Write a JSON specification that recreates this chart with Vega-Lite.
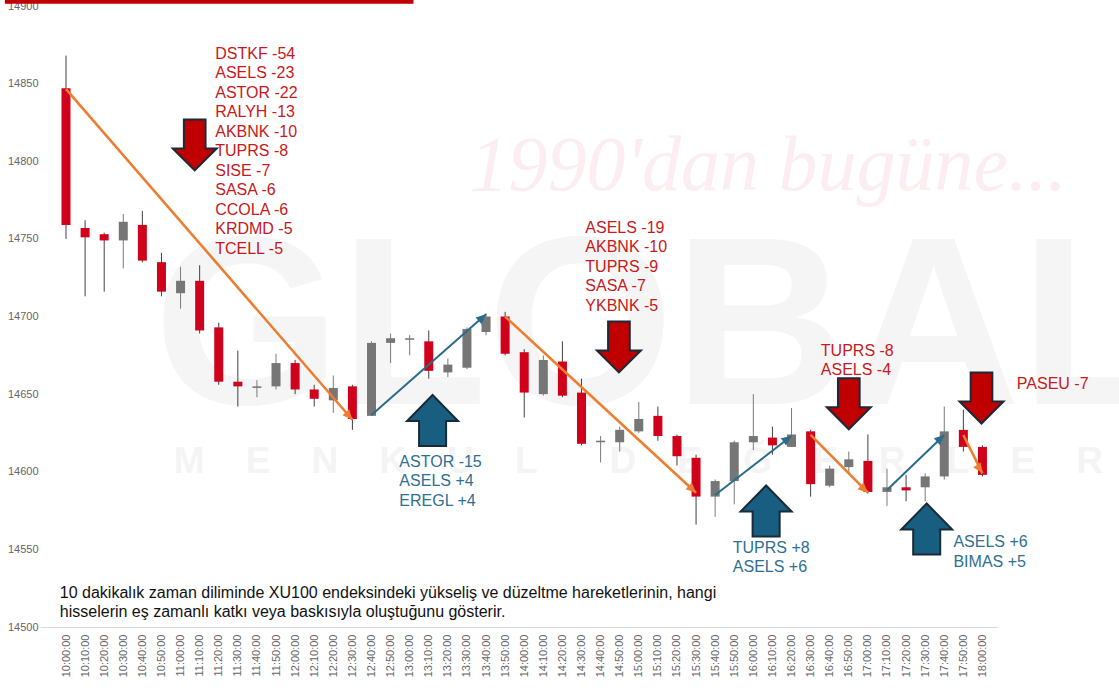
{
  "$schema": "https://vega.github.io/schema/vega-lite/v6.json",
  "width": 957,
  "height": 621,
  "autosize": "none",
  "padding": {"left": 40, "top": 6, "right": 122, "bottom": 61},
  "background": "white",
  "config": {"view": {"stroke": null}, "font": "Liberation Sans", "axisX": {"labelOverlap": false}},
  "datasets": {
    "candles": [
      {"t": "2024-01-02T10:00:00", "open": 14847, "high": 14868, "low": 14750, "close": 14759},
      {"t": "2024-01-02T10:10:00", "open": 14757, "high": 14762, "low": 14713, "close": 14751},
      {"t": "2024-01-02T10:20:00", "open": 14753, "high": 14754, "low": 14716, "close": 14749},
      {"t": "2024-01-02T10:30:00", "open": 14749, "high": 14766, "low": 14731, "close": 14761},
      {"t": "2024-01-02T10:40:00", "open": 14759, "high": 14768, "low": 14735, "close": 14736},
      {"t": "2024-01-02T10:50:00", "open": 14735, "high": 14741, "low": 14713, "close": 14716},
      {"t": "2024-01-02T11:00:00", "open": 14715, "high": 14732, "low": 14705, "close": 14723},
      {"t": "2024-01-02T11:10:00", "open": 14723, "high": 14733, "low": 14689, "close": 14691},
      {"t": "2024-01-02T11:20:00", "open": 14693, "high": 14696, "low": 14656, "close": 14658},
      {"t": "2024-01-02T11:30:00", "open": 14658, "high": 14678, "low": 14642, "close": 14655},
      {"t": "2024-01-02T11:40:00", "open": 14654, "high": 14659, "low": 14648, "close": 14655},
      {"t": "2024-01-02T11:50:00", "open": 14655, "high": 14676, "low": 14653, "close": 14670},
      {"t": "2024-01-02T12:00:00", "open": 14670, "high": 14672, "low": 14650, "close": 14653},
      {"t": "2024-01-02T12:10:00", "open": 14653, "high": 14656, "low": 14642, "close": 14647},
      {"t": "2024-01-02T12:20:00", "open": 14646, "high": 14662, "low": 14638, "close": 14654},
      {"t": "2024-01-02T12:30:00", "open": 14655, "high": 14656, "low": 14627, "close": 14634},
      {"t": "2024-01-02T12:40:00", "open": 14636, "high": 14684, "low": 14636, "close": 14683},
      {"t": "2024-01-02T12:50:00", "open": 14683, "high": 14689, "low": 14670, "close": 14686},
      {"t": "2024-01-02T13:00:00", "open": 14685, "high": 14688, "low": 14675, "close": 14686},
      {"t": "2024-01-02T13:10:00", "open": 14684, "high": 14691, "low": 14660, "close": 14665},
      {"t": "2024-01-02T13:20:00", "open": 14664, "high": 14673, "low": 14661, "close": 14669},
      {"t": "2024-01-02T13:30:00", "open": 14667, "high": 14693, "low": 14666, "close": 14692},
      {"t": "2024-01-02T13:40:00", "open": 14690, "high": 14702, "low": 14688, "close": 14700},
      {"t": "2024-01-02T13:50:00", "open": 14700, "high": 14703, "low": 14675, "close": 14676},
      {"t": "2024-01-02T14:00:00", "open": 14677, "high": 14679, "low": 14635, "close": 14651},
      {"t": "2024-01-02T14:10:00", "open": 14650, "high": 14675, "low": 14649, "close": 14672},
      {"t": "2024-01-02T14:20:00", "open": 14671, "high": 14684, "low": 14648, "close": 14649},
      {"t": "2024-01-02T14:30:00", "open": 14651, "high": 14660, "low": 14617, "close": 14618},
      {"t": "2024-01-02T14:40:00", "open": 14619, "high": 14623, "low": 14606, "close": 14620},
      {"t": "2024-01-02T14:50:00", "open": 14619, "high": 14629, "low": 14613, "close": 14627},
      {"t": "2024-01-02T15:00:00", "open": 14626, "high": 14645, "low": 14625, "close": 14634},
      {"t": "2024-01-02T15:10:00", "open": 14636, "high": 14642, "low": 14620, "close": 14623},
      {"t": "2024-01-02T15:20:00", "open": 14623, "high": 14624, "low": 14604, "close": 14610},
      {"t": "2024-01-02T15:30:00", "open": 14609, "high": 14611, "low": 14566, "close": 14584},
      {"t": "2024-01-02T15:40:00", "open": 14584, "high": 14595, "low": 14571, "close": 14594},
      {"t": "2024-01-02T15:50:00", "open": 14594, "high": 14620, "low": 14579, "close": 14619},
      {"t": "2024-01-02T16:00:00", "open": 14619, "high": 14650, "low": 14614, "close": 14623},
      {"t": "2024-01-02T16:10:00", "open": 14622, "high": 14629, "low": 14611, "close": 14617},
      {"t": "2024-01-02T16:20:00", "open": 14616, "high": 14641, "low": 14616, "close": 14624},
      {"t": "2024-01-02T16:30:00", "open": 14626, "high": 14627, "low": 14584, "close": 14592},
      {"t": "2024-01-02T16:40:00", "open": 14591, "high": 14604, "low": 14590, "close": 14602},
      {"t": "2024-01-02T16:50:00", "open": 14603, "high": 14613, "low": 14599, "close": 14608},
      {"t": "2024-01-02T17:00:00", "open": 14607, "high": 14624, "low": 14586, "close": 14587},
      {"t": "2024-01-02T17:10:00", "open": 14587, "high": 14602, "low": 14578, "close": 14590},
      {"t": "2024-01-02T17:20:00", "open": 14590, "high": 14598, "low": 14581, "close": 14588},
      {"t": "2024-01-02T17:30:00", "open": 14590, "high": 14599, "low": 14581, "close": 14597},
      {"t": "2024-01-02T17:40:00", "open": 14597, "high": 14642, "low": 14595, "close": 14626},
      {"t": "2024-01-02T17:50:00", "open": 14627, "high": 14640, "low": 14613, "close": 14616},
      {"t": "2024-01-02T18:00:00", "open": 14616, "high": 14617, "low": 14597, "close": 14598}
    ],
    "arrows": [
      {"id": "A1", "dir": "down", "t1": "2024-01-02T10:00:00", "v1": 14846.5, "t2": "2024-01-02T12:30:00", "v2": 14633.5},
      {"id": "A2", "dir": "up", "t1": "2024-01-02T12:40:00", "v1": 14636.5, "t2": "2024-01-02T13:40:00", "v2": 14701.5},
      {"id": "A3", "dir": "down", "t1": "2024-01-02T13:50:00", "v1": 14700, "t2": "2024-01-02T15:30:00", "v2": 14586.5},
      {"id": "A4", "dir": "up", "t1": "2024-01-02T15:40:00", "v1": 14585, "t2": "2024-01-02T16:20:00", "v2": 14623},
      {"id": "A5", "dir": "down", "t1": "2024-01-02T16:30:00", "v1": 14623.7, "t2": "2024-01-02T17:00:00", "v2": 14586.5},
      {"id": "A6", "dir": "up", "t1": "2024-01-02T17:10:00", "v1": 14588.2, "t2": "2024-01-02T17:40:00", "v2": 14623.7},
      {"id": "A7", "dir": "down", "t1": "2024-01-02T17:50:00", "v1": 14623.7, "t2": "2024-01-02T18:00:00", "v2": 14599}
    ],
    "blocks": [
      {"dir": "down", "t": "2024-01-02T11:07:25", "v": 14810.5},
      {"dir": "down", "t": "2024-01-02T14:49:36", "v": 14680.4},
      {"dir": "down", "t": "2024-01-02T16:50:00", "v": 14643.8},
      {"dir": "down", "t": "2024-01-02T17:59:30", "v": 14647.5},
      {"dir": "up", "t": "2024-01-02T13:12:00", "v": 14633.0},
      {"dir": "up", "t": "2024-01-02T16:06:42", "v": 14574.7},
      {"dir": "up", "t": "2024-01-02T17:30:48", "v": 14563.1}
    ],
    "notes": [
      {"kind": "red", "t": "2024-01-02T11:18:09", "v": 14865.9, "text": "DSTKF -54\nASELS -23\nASTOR -22\nRALYH -13\nAKBNK -10\nTUPRS -8\nSISE -7\nSASA -6\nCCOLA -6\nKRDMD -5\nTCELL -5"},
      {"kind": "red", "t": "2024-01-02T14:32:00", "v": 14753.8, "text": "ASELS -19\nAKBNK -10\nTUPRS -9\nSASA -7\nYKBNK -5"},
      {"kind": "blue", "t": "2024-01-02T12:54:36", "v": 14603.1, "text": "ASTOR -15\nASELS +4\nEREGL +4"},
      {"kind": "red", "t": "2024-01-02T16:35:21", "v": 14674.6, "text": "TUPRS -8\nASELS -4"},
      {"kind": "red", "t": "2024-01-02T18:18:00", "v": 14653.3, "text": "PASEU -7"},
      {"kind": "blue", "t": "2024-01-02T15:49:14", "v": 14547.7, "text": "TUPRS +8\nASELS +6"},
      {"kind": "blue", "t": "2024-01-02T17:44:48", "v": 14551.5, "text": "ASELS +6\nBIMAS +5"},
      {"kind": "black", "t": "2024-01-02T09:56:46", "v": 14518.7, "text": "10 dakikalık zaman diliminde XU100 endeksindeki yükseliş ve düzeltme hareketlerinin, hangi\nhisselerin eş zamanlı katkı veya baskısıyla oluştuğunu gösterir."}
    ],
    "topbar": [{"t1": "2024-01-02T09:28:00", "t2": "2024-01-02T13:02:00", "v1": 14901.4, "v2": 14904.5}],
    "wm1": [{"t": "2024-01-02T13:31:18", "v": 14781.5, "text": "1990'dan bugüne..."}],
    "wm2": [{"t": "2024-01-02T10:46:00", "v": 14643.6, "text": "GLOBAL"}],
    "wm3": [{"t": "2024-01-02T10:56:24", "v": 14599.2, "text": "M\u00a0\u00a0\u00a0\u00a0E\u00a0\u00a0\u00a0\u00a0N\u00a0\u00a0\u00a0\u00a0K\u00a0\u00a0\u00a0\u00a0U\u00a0\u00a0\u00a0\u00a0L\u00a0\u00a0\u00a0\u00a0\u00a0\u00a0\u00a0D\u00a0\u00a0\u00a0\u00a0E\u00a0\u00a0\u00a0\u00a0Ğ\u00a0\u00a0\u00a0\u00a0E\u00a0\u00a0\u00a0\u00a0R\u00a0\u00a0\u00a0\u00a0L\u00a0\u00a0\u00a0\u00a0E\u00a0\u00a0\u00a0\u00a0R"}]
  },
  "layer": [
    {
      "data": {"name": "topbar"},
      "mark": {"type": "rect", "color": "#c00000"},
      "encoding": {
        "x": {
          "field": "t1", "type": "temporal",
          "scale": {"domain": [{"year": 2024, "month": 1, "date": 2, "hours": 9, "minutes": 49}, {"year": 2024, "month": 1, "date": 2, "hours": 18, "minutes": 5}], "nice": false},
          "axis": {"title": null, "format": "%H:%M:%S", "labelAngle": -90, "labelFontSize": 11, "labelFont": "Liberation Sans", "labelColor": "#666666", "ticks": false, "labelPadding": 7, "domainColor": "#d9d9d9", "grid": false, "labelOverlap": false, "labelFlush": false, "tickCount": 200,
            "values": [
              {"year": 2024, "month": 1, "date": 2, "hours": 10, "minutes": 0}, {"year": 2024, "month": 1, "date": 2, "hours": 10, "minutes": 10}, {"year": 2024, "month": 1, "date": 2, "hours": 10, "minutes": 20}, {"year": 2024, "month": 1, "date": 2, "hours": 10, "minutes": 30}, {"year": 2024, "month": 1, "date": 2, "hours": 10, "minutes": 40}, {"year": 2024, "month": 1, "date": 2, "hours": 10, "minutes": 50},
              {"year": 2024, "month": 1, "date": 2, "hours": 11, "minutes": 0}, {"year": 2024, "month": 1, "date": 2, "hours": 11, "minutes": 10}, {"year": 2024, "month": 1, "date": 2, "hours": 11, "minutes": 20}, {"year": 2024, "month": 1, "date": 2, "hours": 11, "minutes": 30}, {"year": 2024, "month": 1, "date": 2, "hours": 11, "minutes": 40}, {"year": 2024, "month": 1, "date": 2, "hours": 11, "minutes": 50},
              {"year": 2024, "month": 1, "date": 2, "hours": 12, "minutes": 0}, {"year": 2024, "month": 1, "date": 2, "hours": 12, "minutes": 10}, {"year": 2024, "month": 1, "date": 2, "hours": 12, "minutes": 20}, {"year": 2024, "month": 1, "date": 2, "hours": 12, "minutes": 30}, {"year": 2024, "month": 1, "date": 2, "hours": 12, "minutes": 40}, {"year": 2024, "month": 1, "date": 2, "hours": 12, "minutes": 50},
              {"year": 2024, "month": 1, "date": 2, "hours": 13, "minutes": 0}, {"year": 2024, "month": 1, "date": 2, "hours": 13, "minutes": 10}, {"year": 2024, "month": 1, "date": 2, "hours": 13, "minutes": 20}, {"year": 2024, "month": 1, "date": 2, "hours": 13, "minutes": 30}, {"year": 2024, "month": 1, "date": 2, "hours": 13, "minutes": 40}, {"year": 2024, "month": 1, "date": 2, "hours": 13, "minutes": 50},
              {"year": 2024, "month": 1, "date": 2, "hours": 14, "minutes": 0}, {"year": 2024, "month": 1, "date": 2, "hours": 14, "minutes": 10}, {"year": 2024, "month": 1, "date": 2, "hours": 14, "minutes": 20}, {"year": 2024, "month": 1, "date": 2, "hours": 14, "minutes": 30}, {"year": 2024, "month": 1, "date": 2, "hours": 14, "minutes": 40}, {"year": 2024, "month": 1, "date": 2, "hours": 14, "minutes": 50},
              {"year": 2024, "month": 1, "date": 2, "hours": 15, "minutes": 0}, {"year": 2024, "month": 1, "date": 2, "hours": 15, "minutes": 10}, {"year": 2024, "month": 1, "date": 2, "hours": 15, "minutes": 20}, {"year": 2024, "month": 1, "date": 2, "hours": 15, "minutes": 30}, {"year": 2024, "month": 1, "date": 2, "hours": 15, "minutes": 40}, {"year": 2024, "month": 1, "date": 2, "hours": 15, "minutes": 50},
              {"year": 2024, "month": 1, "date": 2, "hours": 16, "minutes": 0}, {"year": 2024, "month": 1, "date": 2, "hours": 16, "minutes": 10}, {"year": 2024, "month": 1, "date": 2, "hours": 16, "minutes": 20}, {"year": 2024, "month": 1, "date": 2, "hours": 16, "minutes": 30}, {"year": 2024, "month": 1, "date": 2, "hours": 16, "minutes": 40}, {"year": 2024, "month": 1, "date": 2, "hours": 16, "minutes": 50},
              {"year": 2024, "month": 1, "date": 2, "hours": 17, "minutes": 0}, {"year": 2024, "month": 1, "date": 2, "hours": 17, "minutes": 10}, {"year": 2024, "month": 1, "date": 2, "hours": 17, "minutes": 20}, {"year": 2024, "month": 1, "date": 2, "hours": 17, "minutes": 30}, {"year": 2024, "month": 1, "date": 2, "hours": 17, "minutes": 40}, {"year": 2024, "month": 1, "date": 2, "hours": 17, "minutes": 50},
              {"year": 2024, "month": 1, "date": 2, "hours": 18, "minutes": 0}
            ]
          }
        },
        "x2": {"field": "t2"},
        "y": {
          "field": "v1", "type": "quantitative",
          "scale": {"domain": [14500, 14900], "nice": false, "zero": false},
          "axis": {"title": null, "format": "d", "values": [14500, 14550, 14600, 14650, 14700, 14750, 14800, 14850, 14900], "tickCount": 50, "labelFontSize": 11, "labelFont": "Liberation Sans", "labelColor": "#666666", "ticks": false, "domain": false, "grid": false, "labelPadding": 2}
        },
        "y2": {"field": "v2"}
      }
    },
    {
      "data": {"name": "wm1"},
      "mark": {"type": "text", "align": "left", "baseline": "alphabetic", "font": "Liberation Serif", "fontStyle": "italic", "fontSize": 78, "color": "#fcedf0"},
      "encoding": {"x": {"field": "t", "type": "temporal"}, "y": {"field": "v", "type": "quantitative"}, "text": {"field": "text"}}
    },
    {
      "data": {"name": "wm2"},
      "mark": {"type": "text", "align": "left", "baseline": "alphabetic", "font": "Liberation Sans", "fontWeight": "bold", "fontSize": 240, "color": "#f5f5f5"},
      "encoding": {"x": {"field": "t", "type": "temporal"}, "y": {"field": "v", "type": "quantitative"}, "text": {"field": "text"}}
    },
    {
      "data": {"name": "wm3"},
      "mark": {"type": "text", "align": "left", "baseline": "alphabetic", "font": "Liberation Sans", "fontWeight": "bold", "fontSize": 37, "color": "#f4f4f4"},
      "encoding": {"x": {"field": "t", "type": "temporal"}, "y": {"field": "v", "type": "quantitative"}, "text": {"field": "text"}}
    },
    {
      "data": {"name": "candles"},
      "mark": {"type": "rule", "strokeWidth": 1},
      "encoding": {
        "x": {"field": "t", "type": "temporal"},
        "y": {"field": "low", "type": "quantitative"},
        "y2": {"field": "high"},
        "color": {"condition": {"test": "datum.close < datum.open", "value": "#404040"}, "value": "#7a7a7a"}
      }
    },
    {
      "data": {"name": "candles"},
      "mark": {"type": "bar", "width": 9},
      "encoding": {
        "x": {"field": "t", "type": "temporal"},
        "y": {"field": "open", "type": "quantitative"},
        "y2": {"field": "close"},
        "color": {"condition": {"test": "datum.close < datum.open", "value": "#d0021b"}, "value": "#767676"}
      }
    },
    {
      "data": {"name": "arrows"},
      "transform": [{"filter": "datum.dir == 'down'"}],
      "mark": {"type": "rule", "color": "#ed7d31", "strokeWidth": 2.6},
      "encoding": {
        "x": {"field": "t1", "type": "temporal"},
        "x2": {"field": "t2"},
        "y": {"field": "v1", "type": "quantitative"},
        "y2": {"field": "v2"}
      }
    },
    {
      "data": {"name": "arrows"},
      "transform": [{"filter": "datum.dir == 'up'"}],
      "mark": {"type": "rule", "color": "#2b6b8c", "strokeWidth": 2},
      "encoding": {
        "x": {"field": "t1", "type": "temporal"},
        "x2": {"field": "t2"},
        "y": {"field": "v1", "type": "quantitative"},
        "y2": {"field": "v2"}
      }
    },
    {
      "data": {"name": "arrows"},
      "transform": [{"filter": "datum.id == 'A1'"}],
      "mark": {"type": "point", "shape": "M 0 0 L 0.9 2 L -0.9 2 Z", "filled": true, "size": 100, "opacity": 1, "color": "#ed7d31", "angle": 139},
      "encoding": {"x": {"field": "t2", "type": "temporal"}, "y": {"field": "v2", "type": "quantitative"}}
    },
    {
      "data": {"name": "arrows"},
      "transform": [{"filter": "datum.id == 'A3' || datum.id == 'A5'"}],
      "mark": {"type": "point", "shape": "M 0 0 L 0.9 2 L -0.9 2 Z", "filled": true, "size": 100, "opacity": 1, "color": "#ed7d31", "angle": 133},
      "encoding": {"x": {"field": "t2", "type": "temporal"}, "y": {"field": "v2", "type": "quantitative"}}
    },
    {
      "data": {"name": "arrows"},
      "transform": [{"filter": "datum.id == 'A7'"}],
      "mark": {"type": "point", "shape": "M 0 0 L 0.9 2 L -0.9 2 Z", "filled": true, "size": 100, "opacity": 1, "color": "#ed7d31", "angle": 147},
      "encoding": {"x": {"field": "t2", "type": "temporal"}, "y": {"field": "v2", "type": "quantitative"}}
    },
    {
      "data": {"name": "arrows"},
      "transform": [{"filter": "datum.id == 'A2' || datum.id == 'A6'"}],
      "mark": {"type": "point", "shape": "M 0 0 L 0.9 2 L -0.9 2 Z", "filled": true, "size": 100, "opacity": 1, "color": "#2b6b8c", "angle": 48},
      "encoding": {"x": {"field": "t2", "type": "temporal"}, "y": {"field": "v2", "type": "quantitative"}}
    },
    {
      "data": {"name": "arrows"},
      "transform": [{"filter": "datum.id == 'A4'"}],
      "mark": {"type": "point", "shape": "M 0 0 L 0.9 2 L -0.9 2 Z", "filled": true, "size": 100, "opacity": 1, "color": "#2b6b8c", "angle": 54},
      "encoding": {"x": {"field": "t2", "type": "temporal"}, "y": {"field": "v2", "type": "quantitative"}}
    },
    {
      "data": {"name": "blocks"},
      "transform": [{"filter": "datum.dir == 'down'"}],
      "mark": {"type": "point", "shape": "M -0.425 -1 L 0.425 -1 L 0.425 0.137 L 0.863 0.137 L 0 1 L -0.863 0.137 L -0.425 0.137 Z", "size": 2601, "filled": true, "color": "#c00000", "stroke": "#1b2a38", "strokeWidth": 2, "opacity": 1},
      "encoding": {"x": {"field": "t", "type": "temporal"}, "y": {"field": "v", "type": "quantitative"}}
    },
    {
      "data": {"name": "blocks"},
      "transform": [{"filter": "datum.dir == 'up'"}],
      "mark": {"type": "point", "shape": "M 0 -1 L 1 0.02 L 0.53 0.02 L 0.53 1 L -0.53 1 L -0.53 0.02 L -1 0.02 Z", "size": 2601, "filled": true, "color": "#175e80", "stroke": "#1b2a38", "strokeWidth": 2, "opacity": 1},
      "encoding": {"x": {"field": "t", "type": "temporal"}, "y": {"field": "v", "type": "quantitative"}}
    },
    {
      "data": {"name": "notes"},
      "mark": {"type": "text", "align": "left", "baseline": "alphabetic", "fontSize": 16, "font": "Liberation Sans", "lineBreak": "\n", "lineHeight": 19.5},
      "encoding": {
        "x": {"field": "t", "type": "temporal"},
        "y": {"field": "v", "type": "quantitative"},
        "text": {"field": "text"},
        "color": {"field": "kind", "type": "nominal", "scale": {"domain": ["red", "blue", "black"], "range": ["#c81820", "#2f6f91", "#111111"]}, "legend": null}
      }
    }
  ]
}
